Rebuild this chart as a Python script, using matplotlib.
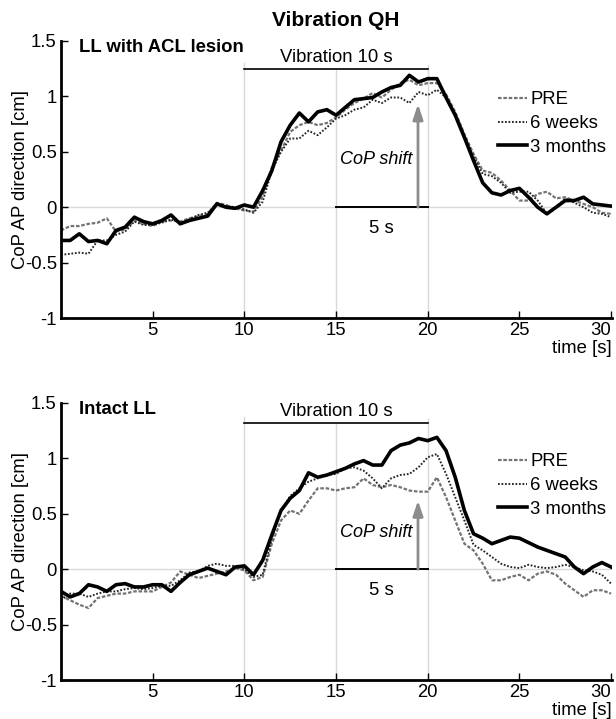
import numpy as np
import matplotlib
matplotlib.use("Agg")
import matplotlib.pyplot as plt

plt.rcParams['font.family'] = ['Liberation Sans', 'DejaVu Sans']

time = np.arange(0, 30.01, 0.5)

top_pre = [-0.21, -0.17, -0.17, -0.15, -0.14, -0.10, -0.22, -0.20, -0.12, -0.15,
           -0.17, -0.13, -0.12, -0.13, -0.10, -0.08, -0.06, 0.04, 0.02, -0.01,
           -0.03, -0.04, 0.10, 0.36, 0.51, 0.68, 0.74, 0.77, 0.74, 0.76,
           0.81, 0.88, 0.94, 0.98, 1.03, 0.99, 1.06, 1.12, 1.15, 1.10,
           1.12, 1.12, 1.02, 0.86, 0.66, 0.48, 0.33, 0.31, 0.24, 0.15,
           0.06, 0.06, 0.12, 0.14, 0.08, 0.09, 0.06, 0.03, 0.00, -0.05, -0.06]
top_6w = [-0.43, -0.42, -0.41, -0.42, -0.30, -0.30, -0.25, -0.22, -0.13, -0.16,
          -0.16, -0.14, -0.11, -0.14, -0.11, -0.07, -0.05, 0.03, 0.01, 0.00,
          -0.02, -0.05, 0.05, 0.33, 0.50, 0.62, 0.62, 0.69, 0.65, 0.72,
          0.80, 0.83, 0.88, 0.90, 0.97, 0.94, 0.99, 0.99, 0.94, 1.04,
          1.01, 1.06, 0.99, 0.84, 0.64, 0.46, 0.30, 0.28, 0.22, 0.13,
          0.14, 0.14, 0.06, -0.06, 0.00, 0.08, 0.04, 0.00, -0.05, -0.06, -0.09]
top_3m = [-0.30, -0.30, -0.24, -0.31, -0.30, -0.33, -0.21, -0.18, -0.09, -0.13,
          -0.15, -0.12, -0.07, -0.15, -0.12, -0.10, -0.08, 0.03, 0.00, -0.01,
          0.02, 0.00, 0.15, 0.33, 0.59, 0.74, 0.85, 0.77, 0.86, 0.88,
          0.83, 0.90, 0.97, 0.98, 0.99, 1.04, 1.08, 1.10, 1.19, 1.13,
          1.16, 1.16, 0.99, 0.83, 0.63, 0.42, 0.22, 0.13, 0.11, 0.15,
          0.17, 0.09, 0.00, -0.06, 0.00, 0.06, 0.06, 0.09, 0.03, 0.02, 0.01]

bot_pre = [-0.24, -0.28, -0.32, -0.35, -0.26, -0.24, -0.22, -0.22, -0.20, -0.20,
           -0.20, -0.16, -0.12, -0.02, -0.05, -0.08, -0.06, -0.04, -0.02, 0.01,
           -0.01, -0.10, -0.07, 0.23, 0.44, 0.53, 0.50, 0.62, 0.73, 0.73,
           0.71, 0.73, 0.74, 0.82, 0.76, 0.74, 0.76, 0.74, 0.71, 0.70,
           0.70, 0.83, 0.65, 0.44, 0.23, 0.17, 0.05, -0.10, -0.10, -0.07,
           -0.05, -0.10, -0.04, -0.02, -0.05, -0.13, -0.19, -0.25, -0.19, -0.19, -0.22]
bot_6w = [-0.28, -0.22, -0.22, -0.25, -0.22, -0.20, -0.20, -0.18, -0.17, -0.18,
          -0.17, -0.15, -0.15, -0.10, -0.03, -0.02, 0.03, 0.05, 0.03, 0.03,
          0.00, -0.07, -0.05, 0.28, 0.53, 0.66, 0.73, 0.79, 0.82, 0.85,
          0.86, 0.91, 0.92, 0.89, 0.82, 0.73, 0.82, 0.85, 0.86, 0.92,
          1.01, 1.04, 0.86, 0.65, 0.44, 0.22, 0.17, 0.11, 0.05, 0.02,
          0.01, 0.04, 0.02, 0.01, 0.02, 0.04, 0.02, -0.01, -0.02, -0.05, -0.13]
bot_3m = [-0.20, -0.25, -0.22, -0.14, -0.16, -0.20, -0.14, -0.13, -0.16, -0.16,
          -0.14, -0.14, -0.20, -0.12, -0.05, -0.02, 0.01, -0.02, -0.05, 0.02,
          0.03, -0.05, 0.08, 0.31, 0.53, 0.64, 0.71, 0.87, 0.83, 0.85,
          0.88, 0.91, 0.95, 0.98, 0.94, 0.94, 1.07, 1.12, 1.14, 1.18,
          1.16, 1.19, 1.07, 0.83, 0.53, 0.32, 0.28, 0.23, 0.26, 0.29,
          0.28, 0.24, 0.20, 0.17, 0.14, 0.11, 0.02, -0.04, 0.02, 0.06, 0.02]

series_labels = ["PRE", "6 weeks", "3 months"]
x_ticks = [5, 10, 15, 20, 25, 30]
x_ticklabels = ["5", "10", "15", "20", "25", "30"]
y_ticks = [-1, -0.5, 0, 0.5, 1, 1.5]
y_ticklabels = ["-1", "-0.5", "0", "0.5", "1", "1.5"]

panels = [
    dict(title="LL with ACL lesion", data=(top_pre, top_6w, top_3m),
         bar_y=1.25, bar_txt=1.35, vtop=(1.30, 1.25, 1.28), arrow_top=0.93, shift_y=0.43),
    dict(title="Intact LL", data=(bot_pre, bot_6w, bot_3m),
         bar_y=1.32, bar_txt=1.42, vtop=(1.37, 1.32, 1.36), arrow_top=0.62, shift_y=0.33),
]

fig = plt.figure(figsize=(6.16, 7.19), dpi=100)
axes_rects = [[0.099, 0.5577, 0.8945, 0.3853], [0.099, 0.0542, 0.8945, 0.3853]]
FS = 13.3

styles = [
    dict(color="0.45", lw=1.6, ls=(0, (1.6, 0.8))),
    dict(color="0.15", lw=1.4, ls=(0, (0.9, 0.9))),
    dict(color="black", lw=2.6, ls="-"),
]

for rect, p in zip(axes_rects, panels):
    ax = fig.add_axes(rect)
    ax.set_xlim(0, 30.05)
    ax.set_ylim(-1, 1.5)
    # reference lines
    ax.axhline(0, color="0.85", lw=1, zorder=0)
    for xv, yt in zip([10, 15, 20], p["vtop"]):
        ax.plot([xv, xv], [-1, yt], color="0.85", lw=1, zorder=0)
    lines = []
    for vals, st, lab in zip(p["data"], styles, series_labels):
        ln, = ax.plot(time, vals, color=st["color"], lw=st["lw"], linestyle=st["ls"],
                      label=lab, zorder=3 if lab == "3 months" else 2)
        lines.append(ln)
    # vibration bar
    ax.plot([10, 20], [p["bar_y"], p["bar_y"]], color="black", lw=1.2)
    ax.text(15, p["bar_txt"], "Vibration 10 s", ha="center", va="center", fontsize=FS)
    # 5 s bar
    ax.plot([15, 20], [0, 0], color="black", lw=1.4, zorder=4)
    ax.text(17.5, -0.19, "5 s", ha="center", va="center", fontsize=FS)
    # CoP shift arrow
    ax.annotate("", xy=(19.47, p["arrow_top"]), xytext=(19.47, 0),
                arrowprops=dict(arrowstyle="-|>,head_length=0.9,head_width=0.3",
                                color="0.55", lw=2, shrinkA=0, shrinkB=0), zorder=5)
    ax.text(19.18, p["shift_y"], "CoP shift", ha="right", va="center",
            fontsize=FS - 0.3, style="italic")
    ax.text(1.0, 1.44, p["title"], ha="left", va="center", fontsize=FS, fontweight="bold")
    # axes styling
    for s in ["top", "right"]:
        ax.spines[s].set_visible(False)
    for s in ["left", "bottom"]:
        ax.spines[s].set_linewidth(2)
    ax.set_xticks(x_ticks)
    ax.set_xticklabels(x_ticklabels)
    ax.set_yticks(y_ticks)
    ax.set_yticklabels(y_ticklabels)
    ax.tick_params(direction="in", length=5, width=1, labelsize=FS, pad=3)
    ax.get_xticklabels()[-1].set_horizontalalignment("right")
    ax.set_ylabel("CoP AP direction [cm]", fontsize=FS, labelpad=-3)
    ax.text(1.0, -0.08, "time [s]", ha="right", va="top", fontsize=FS,
            transform=ax.transAxes)
    leg = ax.legend(handles=lines, loc="upper left", bbox_to_anchor=(0.793, 0.818),
                    frameon=False, fontsize=FS, handlelength=1.6, handletextpad=0.15,
                    labelspacing=0.36, borderpad=0, borderaxespad=0)

fig.text(336 / 616, 1 - 20 / 719, "Vibration QH", ha="center", va="center",
         fontsize=15, fontweight="bold")

fig.savefig("out.png", dpi=100)
